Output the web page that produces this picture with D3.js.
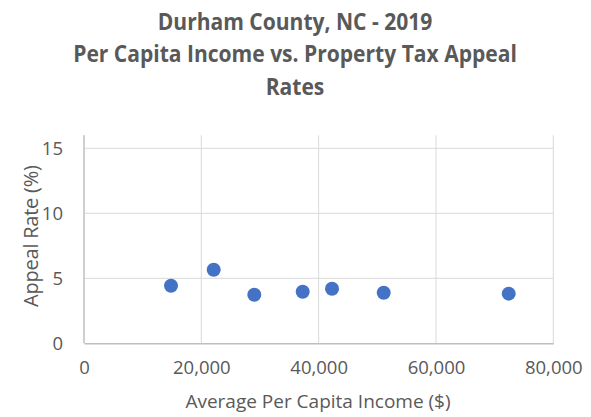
<!DOCTYPE html>
<html><head><meta charset="utf-8">
<script src="https://cdn.jsdelivr.net/npm/d3@7"></script>
<style>body{margin:0;background:#fff}svg{display:block}</style>
</head><body>
<svg id="c" width="591" height="417"></svg>
<script>
const titleLines = ["Durham County, NC - 2019", "Per Capita Income vs. Property Tax Appeal", "Rates"];
const incomes = [14830, 22110, 29030, 37280, 42280, 51090, 72400];
const appealRates = [4.43, 5.66, 3.74, 3.97, 4.2, 3.89, 3.82];
const xTicks = [0, 20000, 40000, 60000, 80000];
const yTicks = [0, 5, 10, 15];
const xLabel = "Average Per Capita Income ($)";
const yLabel = "Appeal Rate (%)";

const svg = d3.select("#c");
const font = "'Open Sans', sans-serif";
const textColor = "#595959";
const x = d3.scaleLinear().domain([0, 80000]).range([84, 553.3]);
const y = d3.scaleLinear().domain([0, 16]).range([343.3, 135.3]);

// gridlines
svg.append("g").selectAll("line.h").data(yTicks.filter(d => d > 0)).join("line")
  .attr("x1", x(0)).attr("x2", x(80000)).attr("y1", d => y(d)).attr("y2", d => y(d))
  .attr("stroke", "#d9d9d9").attr("stroke-width", 1);
svg.append("g").selectAll("line.v").data(xTicks.filter(d => d > 0)).join("line")
  .attr("x1", d => x(d)).attr("x2", d => x(d)).attr("y1", y(0)).attr("y2", y(16))
  .attr("stroke", "#d9d9d9").attr("stroke-width", 1);

// axes
const xAxis = d3.axisBottom(x).tickValues(xTicks).tickSize(0).tickPadding(18).tickFormat(d3.format(","));
const yAxis = d3.axisLeft(y).tickValues(yTicks).tickSize(0).tickPadding(21).tickFormat(d3.format("d"));
const gx = svg.append("g").attr("transform", `translate(0,${y(0)})`).call(xAxis);
const gy = svg.append("g").attr("transform", `translate(${x(0)},0)`).call(yAxis);
[gx, gy].forEach(g => {
  g.select(".domain").attr("stroke", "#bfbfbf").attr("stroke-width", 1.5);
  g.selectAll("text").attr("fill", textColor).style("font-family", font).style("font-size", "18.5px");
});
gy.select(".domain").attr("d", `M0,${y(16)}V${y(0)}`);

// points
svg.append("g").selectAll("circle").data(incomes.map((v, i) => [v, appealRates[i]])).join("circle")
  .attr("cx", d => x(d[0])).attr("cy", d => y(d[1])).attr("r", 7)
  .attr("fill", "#4472c4");

// title
svg.append("g").attr("transform", "translate(295,0) scale(0.915,1)")
  .selectAll("text").data(titleLines).join("text")
  .attr("x", 0).attr("y", (d, i) => 30 + i * 32.5)
  .attr("text-anchor", "middle").attr("fill", textColor)
  .style("font-family", font).style("font-weight", "bold").style("font-size", "23px")
  .text(d => d);

// axis titles
svg.append("text").attr("x", 318).attr("y", 408).attr("text-anchor", "middle")
  .attr("fill", textColor).style("font-family", font).style("font-size", "19px").text(xLabel);
svg.append("text").attr("transform", `translate(37.5,236) rotate(-90)`).attr("text-anchor", "middle")
  .attr("textLength", 142).attr("lengthAdjust", "spacing")
  .attr("fill", textColor).style("font-family", font).style("font-size", "20px").text(yLabel);
</script>
</body></html>
